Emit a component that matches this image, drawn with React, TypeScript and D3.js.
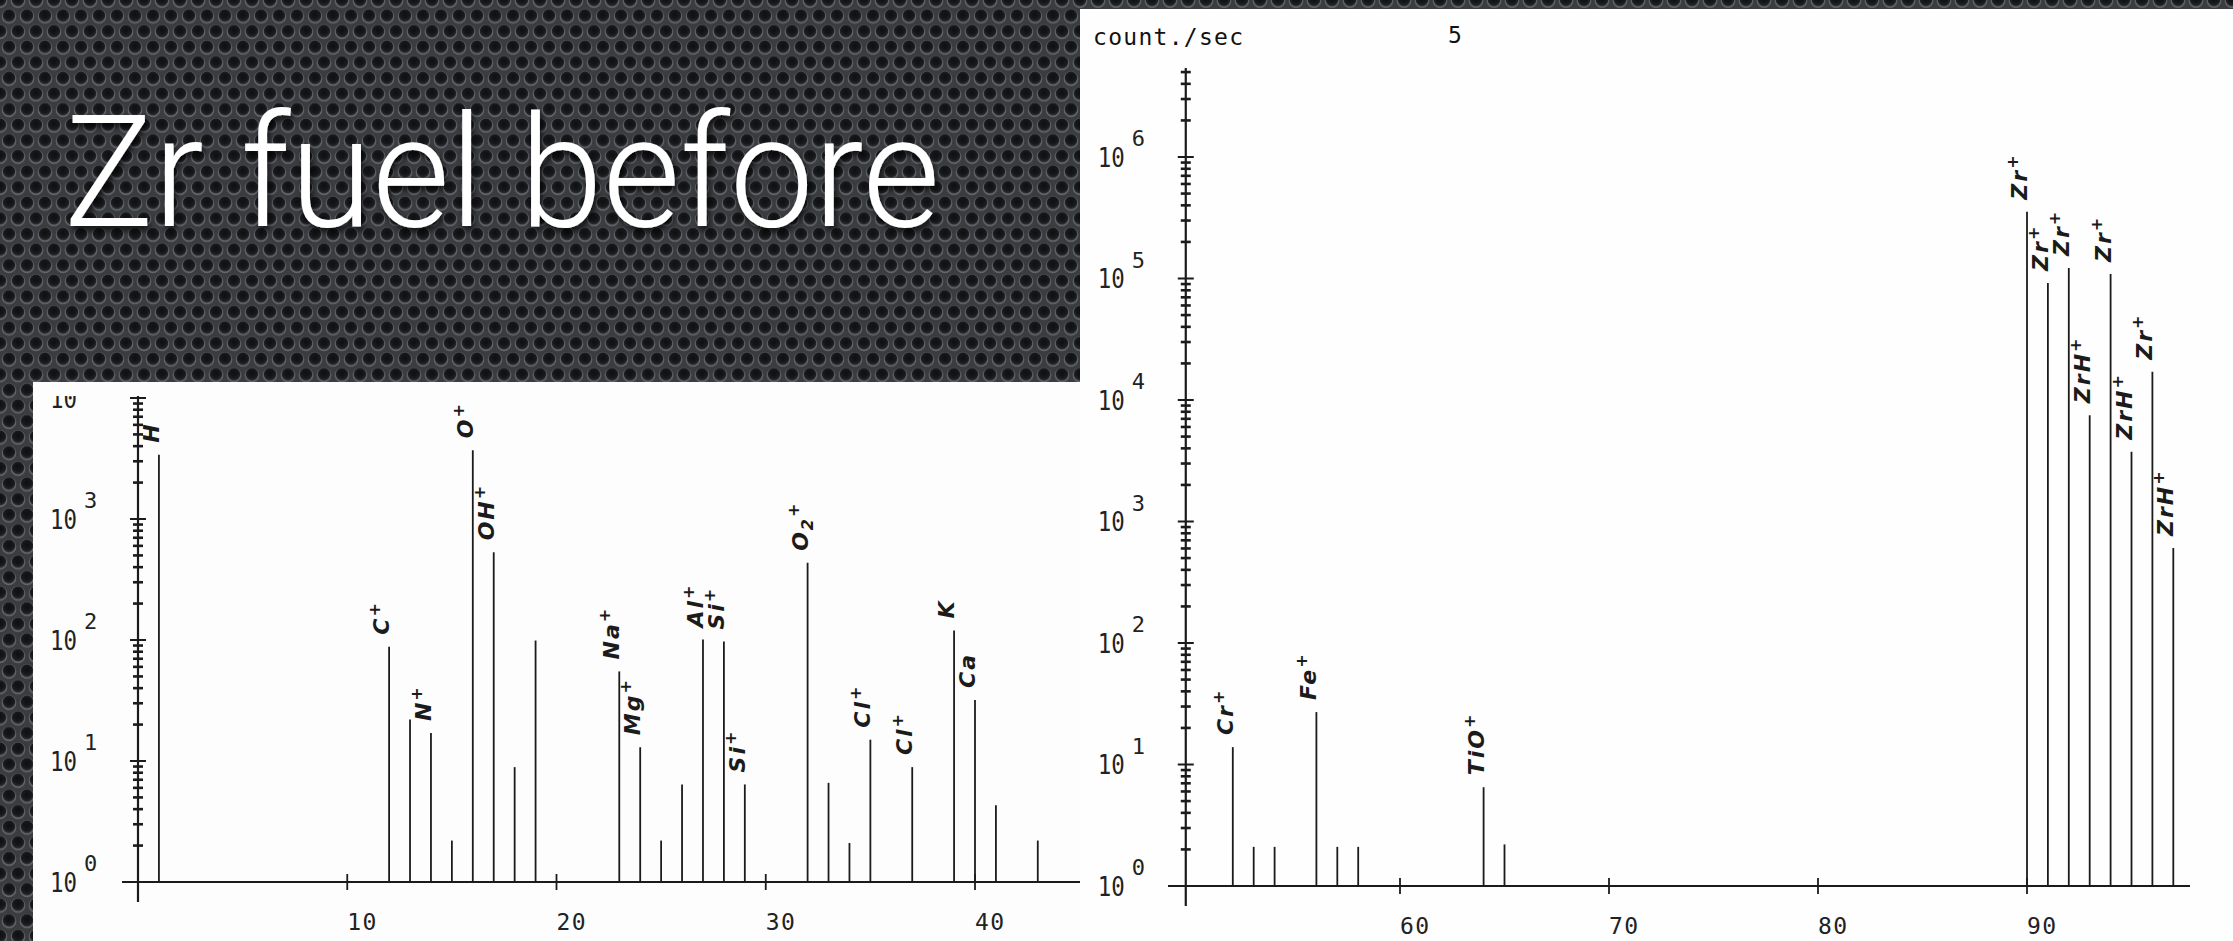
import React, { useEffect } from "react";
import * as d3 from "d3";

// left spectrum (m/z 0-44)
const leftMasses = [1, 12, 13, 14, 15, 16, 17, 18, 19, 23, 24, 25, 26, 27, 28, 29, 32, 33, 34, 35, 37, 39, 40, 41, 43];
const leftCounts = [3400, 88, 22, 17, 2.2, 3700, 530, 8.9, 99, 55, 13, 2.2, 6.4, 101, 97, 6.4, 434, 6.6, 2.1, 15, 8.9, 120, 32, 4.3, 2.2];
const leftLabelMasses = [1, 12, 14, 16, 17, 23, 24, 27, 28, 29, 32, 35, 37, 39, 40];
const leftLabelTexts = ["H", "C^+", "N^+", "O^+", "OH^+", "Na^+", "Mg^+", "Al^+", "Si^+", "Si^+", "O_2^+", "Cl^+", "Cl^+", "K", "Ca"];
const leftXTicks = [10, 20, 30, 40];
const leftDecades = [0, 1, 2, 3, 4];

// right spectrum (m/z 50-98)
const rightMasses = [52, 53, 54, 56, 57, 58, 64, 65, 90, 91, 92, 93, 94, 95, 96, 97];
const rightCounts = [13.9, 2.1, 2.1, 27, 2.1, 2.1, 6.5, 2.2, 355000, 92000, 122000, 7500, 109000, 3750, 17100, 605];
const rightLabelMasses = [52, 56, 64, 90, 91, 92, 93, 94, 95, 96, 97];
const rightLabelTexts = ["Cr^+", "Fe^+", "TiO^+", "Zr^+", "Zr^+", "Zr^+", "ZrH^+", "Zr^+", "ZrH^+", "Zr^+", "ZrH^+"];
const rightXTicks = [60, 70, 80, 90];
const rightDecades = [0, 1, 2, 3, 4, 5, 6];

const MONO = "'DejaVu Sans Mono', 'Liberation Mono', monospace";
const INK = "#1b1b1b";

function PeakLabel({ text, x, y }) {
  // "^" = superscript next char, "_" = subscript next char
  const parts = [];
  let shift = 0;
  for (let i = 0; i < text.length; i++) {
    const c = text[i];
    let target = 0;
    let ch = c;
    if (c === "^") { target = -9; ch = text[++i]; }
    else if (c === "_") { target = 5; ch = text[++i]; }
    parts.push(
      <tspan key={i} dy={target - shift} fontSize={target ? 16 : 22}>{ch}</tspan>
    );
    shift = target;
  }
  return (
    <text
      transform={`translate(${x},${y}) rotate(-90)`}
      dy="0.35em"
      fontFamily="'DejaVu Sans', sans-serif"
      fontStyle="italic"
      fontWeight="bold"
      letterSpacing="2"
      fill={INK}
    >
      {parts}
    </text>
  );
}

function minorTicks(decades) {
  const out = [];
  decades.forEach((e) => {
    for (let k = 1; k <= 9; k++) out.push({ v: k * Math.pow(10, e), major: k === 1 });
  });
  return out;
}

function Panel({ x, y, masses, counts, labelMasses, labelTexts, xTicks, decades, extraTop, axisX0, axisX1, axisStart }) {
  const topV = Math.pow(10, decades[decades.length - 1]);
  const ticks = minorTicks(decades.slice(0, -1)).concat(
    [1, 2, 3, 4, 5].slice(0, extraTop).map((k) => ({ v: k * topV, major: k === 1 }))
  );
  const yTop = y(ticks[ticks.length - 1].v);
  const ax = x(axisStart);
  const y0 = y(1);
  return (
    <g>
      {/* x axis */}
      <line x1={axisX0} x2={axisX1} y1={y0} y2={y0} stroke={INK} strokeWidth={2} />
      {xTicks.map((t) => (
        <g key={t}>
          <line x1={x(t)} x2={x(t)} y1={y0 - 8} y2={y0 + 8} stroke={INK} strokeWidth={1.8} />
          <text x={x(t)} y={y0 + 48} fontFamily={MONO} fontSize={23} textLength={29} fill="#222">{t}</text>
        </g>
      ))}
      {/* y axis */}
      <line x1={ax} x2={ax} y1={yTop - 4} y2={y0 + 20} stroke={INK} strokeWidth={2.2} />
      {ticks.map((t, i) => (
        <line key={i} x1={ax - (t.major ? 8 : 5)} x2={ax + (t.major ? 8 : 5)} y1={y(t.v)} y2={y(t.v)} stroke={INK} strokeWidth={t.major ? 2 : 2.6} />
      ))}
      {decades.map((e) => (
        <g key={e} fontFamily={MONO} fill="#222">
          <text x={ax - 88} y={y(Math.pow(10, e))} dy="0.36em" fontSize={27} textLength={27} lengthAdjust="spacingAndGlyphs">10</text>
          <text x={ax - 54} y={y(Math.pow(10, e)) - 11} fontSize={22}>{e}</text>
        </g>
      ))}
      {/* peaks */}
      {masses.map((m, i) => (
        <line key={m} x1={x(m)} x2={x(m)} y1={y0} y2={y(counts[i])} stroke={INK} strokeWidth={1.8} />
      ))}
      {labelMasses.map((m, i) => (
        <PeakLabel key={m} text={labelTexts[i]} x={x(m)} y={y(counts[masses.indexOf(m)]) - 12} />
      ))}
    </g>
  );
}

export default function App() {
  useEffect(() => {
    document.body.style.margin = "0";
    document.body.style.overflow = "hidden";
  }, []);

  const W = 2233;
  const H = 941;

  const xL = d3.scaleLinear().domain([0, 40]).range([138, 975]);
  const yL = d3.scaleLog().domain([1, 1e4]).range([882, 398]);
  const xR = d3.scaleLinear().domain([60, 90]).range([1400, 2027]);
  const yR = d3.scaleLog().domain([1, 1e6]).range([886, 157]);

  return (
    <svg width={W} height={H} style={{ position: "absolute", left: 0, top: 0, display: "block" }}>
      <defs>
        <radialGradient id="hole" cx="50%" cy="40%" r="55%">
          <stop offset="0%" stopColor="#0e0f10" />
          <stop offset="70%" stopColor="#18191b" />
          <stop offset="100%" stopColor="#2a2c2f" />
        </radialGradient>
        <pattern id="perf" width={18} height={31.2} patternUnits="userSpaceOnUse">
          <rect width={18} height={31.2} fill="#3a3c40" />
          {[[0, 0], [18, 0], [9, 15.6], [0, 31.2], [18, 31.2]].map(([cx, cy], i) => (
            <g key={i}>
              <circle cx={cx} cy={cy + 0.7} r={7.3} fill="#62656a" />
              <circle cx={cx} cy={cy} r={6.3} fill="url(#hole)" />
            </g>
          ))}
        </pattern>
        <filter id="shadow" x="-10%" y="-20%" width="120%" height="150%">
          <feDropShadow dx={2} dy={4} stdDeviation={3} floodColor="#000" floodOpacity={0.75} />
        </filter>
        <clipPath id="clipL">
          <rect x={33} y={396} width={1047} height={545} />
        </clipPath>
      </defs>

      <rect width={W} height={H} fill="url(#perf)" />

      <text x={64} y={226} fill="#ffffff" fontFamily="Roboto, 'Open Sans', Inter, sans-serif" fontWeight={300} fontSize={155} textLength={876} lengthAdjust="spacingAndGlyphs" filter="url(#shadow)">
        Zr fuel before
      </text>

      {/* left scan */}
      <rect x={33} y={382} width={1047} height={559} fill="#fdfdfd" />
      <g clipPath="url(#clipL)">
        <Panel
          x={xL} y={yL}
          masses={leftMasses} counts={leftCounts}
          labelMasses={leftLabelMasses} labelTexts={leftLabelTexts}
          xTicks={leftXTicks} decades={leftDecades}
          extraTop={1} axisX0={122} axisX1={1080} axisStart={0}
        />
      </g>

      {/* right scan */}
      <rect x={1080} y={9} width={1153} height={932} fill="#fefefe" />
      <text x={1093} y={45} fontFamily={MONO} fontSize={23} textLength={150} fill="#111">count./sec</text>
      <text x={1448} y={43} fontFamily={MONO} fontSize={23} fill="#111">5</text>
      <Panel
        x={xR} y={yR}
        masses={rightMasses} counts={rightCounts}
        labelMasses={rightLabelMasses} labelTexts={rightLabelTexts}
        xTicks={rightXTicks} decades={rightDecades}
        extraTop={5} axisX0={1168} axisX1={2190} axisStart={49.75}
      />
    </svg>
  );
}
